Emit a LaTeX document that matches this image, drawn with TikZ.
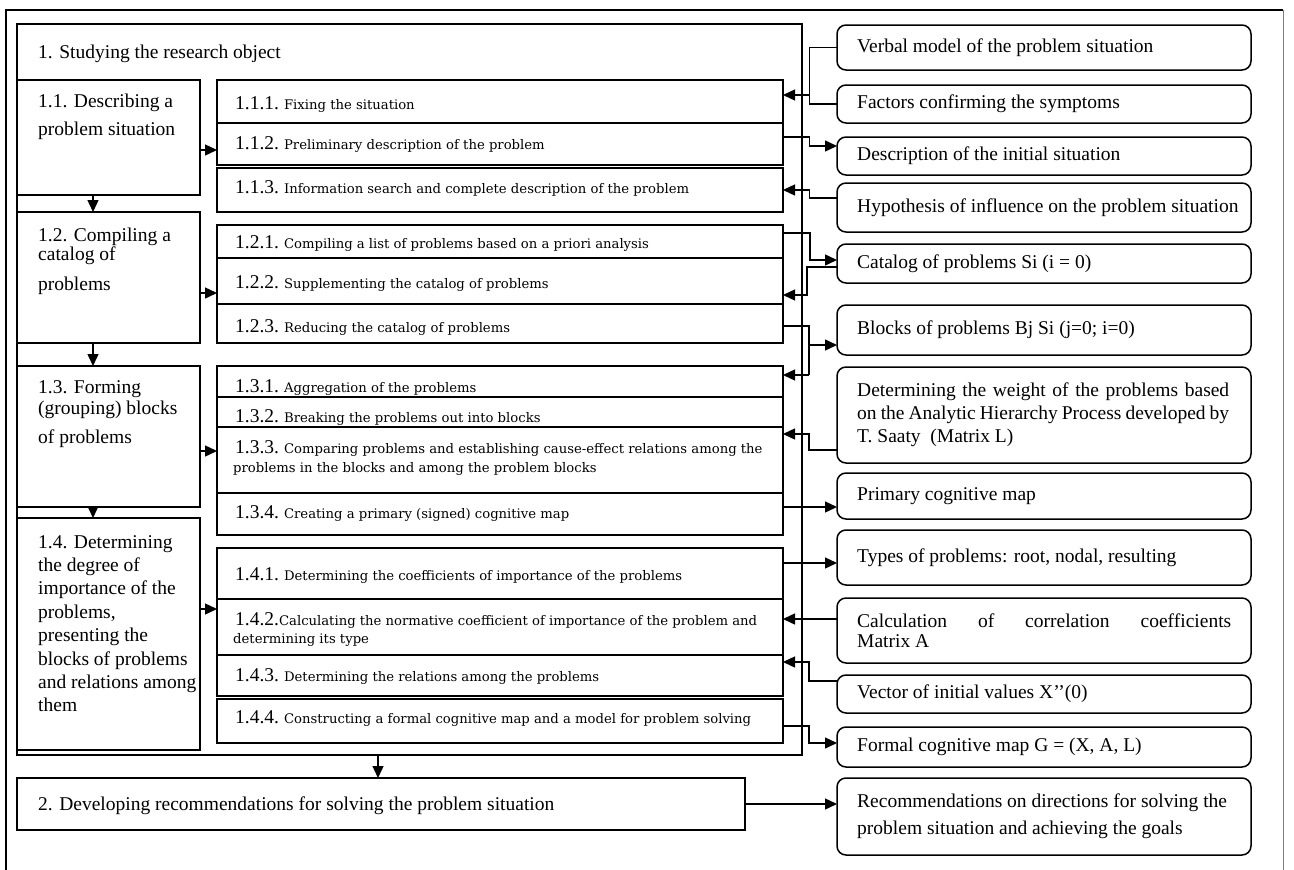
\documentclass[tikz,border=0pt]{standalone}
\usepackage{fontspec}
\setmainfont{Liberation Serif}
\newfontfamily\descfont{DejaVu Serif}
\usetikzlibrary{arrows.meta}

\newcommand\mkbox[6]{%
  \pgfmathsetmacro\mkw{#5-#3}%
  \pgfmathsetmacro\mkh{#6-#4}%
  \node[#1,anchor=north west,minimum width=\mkw pt,minimum height=\mkh pt] (#2) at (#3,#4) {};%
}
\newcommand\bigf{\fontsize{19.5}{23}\selectfont}
\newcommand\smf{\descfont\fontsize{13.2}{15}\selectfont}
\newcommand\subtext[4]{%
  \node[anchor=base west,inner sep=0] (#1) at (235,#2) {\bigf #3\hspace{5pt}{\smf #4}};%
}

\begin{document}
\begin{tikzpicture}[x=1pt,y=-1pt,
  frame/.style={draw=black,line width=1.5pt,inner sep=0,outer sep=0},
  rbx/.style={draw=black,line width=1.5pt,rounded corners=9pt,inner sep=0,outer sep=0},
  conn/.style={line width=1.4pt},
  arr/.style={conn,-{Triangle[length=12pt,width=11pt]}},
  rtext/.style={anchor=west,inner sep=0,font=\bigf}]
\useasboundingbox (0,0) rectangle (1294,870);

% outer frame
\draw[line width=1.6pt] (6,870) -- (6,10) -- (1283,10);
\draw[line width=1pt,gray] (1283,10) -- (1283,870);

% main boxes
\mkbox{frame}{B1}{17}{24}{802}{755}
\mkbox{frame}{B2}{17}{778}{745}{830}
\mkbox{frame}{L11}{17}{80}{200}{195}
\mkbox{frame}{L12}{17}{212}{200}{343}
\mkbox{frame}{L13}{17}{366}{200}{507}
\mkbox{frame}{L14}{17}{518}{200}{750}

% sub boxes
\mkbox{frame}{s111}{217}{80}{783}{123}
\mkbox{frame}{s112}{217}{123}{783}{165}
\mkbox{frame}{s113}{217}{168}{783}{212}
\mkbox{frame}{s121}{217}{225}{783}{258}
\mkbox{frame}{s122}{217}{258}{783}{304}
\mkbox{frame}{s123}{217}{304}{783}{343}
\mkbox{frame}{s131}{217}{366}{783}{397}
\mkbox{frame}{s132}{217}{397}{783}{427}
\mkbox{frame}{s133}{217}{427}{783}{493}
\mkbox{frame}{s134}{217}{493}{783}{535}
\mkbox{frame}{s141}{217}{548}{783}{599}
\mkbox{frame}{s142}{217}{599}{783}{655}
\mkbox{frame}{s143}{217}{655}{783}{696}
\mkbox{frame}{s144}{217}{699}{783}{743}

% right boxes
\mkbox{rbx}{rV}{837}{25}{1251}{70}
\mkbox{rbx}{rF}{837}{85}{1251}{123}
\mkbox{rbx}{rD}{837}{137}{1251}{175}
\mkbox{rbx}{rH}{837}{183}{1251}{232}
\mkbox{rbx}{rC}{837}{244}{1251}{283}
\mkbox{rbx}{rB}{837}{305}{1251}{355}
\mkbox{rbx}{rW}{837}{367}{1251}{463}
\mkbox{rbx}{rP}{837}{473}{1251}{519}
\mkbox{rbx}{rT}{837}{530}{1251}{585}
\mkbox{rbx}{rA}{837}{598}{1251}{663}
\mkbox{rbx}{rX}{837}{675}{1251}{713}
\mkbox{rbx}{rG}{837}{727}{1251}{767}
\mkbox{rbx}{rR}{837}{778}{1251}{855}

% left texts
\node[anchor=base west,inner sep=0] (t1) at (38,58) {\bigf 1. Studying the research object};
\node[anchor=base west,inner sep=0] (t11) at (38,107) {\parbox[t]{165pt}{\raggedright\fontsize{19.5}{28}\selectfont 1.1. Describing a\\problem situation}};
\node[anchor=base west,inner sep=0] (t12) at (38,241) {\parbox[t]{165pt}{\raggedright\fontsize{19.5}{25}\selectfont 1.2. Compiling a\\[-6pt]catalog of\\[5pt]problems}};
\node[anchor=base west,inner sep=0] (t13) at (38,393) {\parbox[t]{165pt}{\raggedright\fontsize{19.5}{25}\selectfont 1.3. Forming\\[-4pt](grouping) blocks\\[4pt]of problems}};
\node[anchor=base west,inner sep=0] (t14) at (38,548) {\parbox[t]{165pt}{\raggedright\fontsize{19.5}{23.4}\selectfont 1.4. Determining\\the degree of\\importance of the\\problems,\\presenting the\\blocks of problems\\and relations among\\them}};
\node[anchor=base west,inner sep=0] (t2) at (38,810) {\bigf 2. Developing recommendations for solving the problem situation};

% sub texts
\subtext{u111}{109}{1.1.1.}{Fixing the situation}
\subtext{u112}{149}{1.1.2.}{Preliminary description of the problem}
\subtext{u113}{193}{1.1.3.}{Information search and complete description of the problem}
\subtext{u121}{248}{1.2.1.}{Compiling a list of problems based on a priori analysis}
\subtext{u122}{288}{1.2.2.}{Supplementing the catalog of problems}
\subtext{u123}{332}{1.2.3.}{Reducing the catalog of problems}
\subtext{u131}{392}{1.3.1.}{Aggregation of the problems}
\subtext{u132}{422}{1.3.2.}{Breaking the problems out into blocks}
\subtext{u133}{453}{1.3.3.}{Comparing problems and establishing cause-effect relations among the}
\node[anchor=base west,inner sep=0] (u133b) at (233,472) {\smf problems in the blocks and among the problem blocks};
\subtext{u134}{518}{1.3.4.}{Creating a primary (signed) cognitive map}
\subtext{u141}{580}{1.4.1.}{Determining the coefficients of importance of the problems}
\node[anchor=base west,inner sep=0] (u142) at (235,625) {\bigf 1.4.2.{\smf Calculating the normative coefficient of importance of the problem and}};
\node[anchor=base west,inner sep=0] (u142b) at (233,643) {\smf determining its type};
\subtext{u143}{681}{1.4.3.}{Determining the relations among the problems}
\subtext{u144}{723}{1.4.4.}{Constructing a formal cognitive map and a model for problem solving}

% right texts
\node[rtext] (vV) at ([xshift=20pt]rV.west) {Verbal model of the problem situation};
\node[rtext] (vF) at ([xshift=20pt]rF.west) {Factors confirming the symptoms};
\node[rtext] (vD) at ([xshift=20pt]rD.west) {Description of the initial situation};
\node[rtext] (vH) at ([xshift=20pt]rH.west) {Hypothesis of influence on the problem situation};
\node[rtext] (vC) at ([xshift=20pt]rC.west) {Catalog of problems Si (i = 0)};
\node[rtext] (vB) at ([xshift=20pt]rB.west) {Blocks of problems Bj Si (j=0; i=0)};
\node[rtext] (vW) at ([xshift=20pt]rW.west) {\parbox{372pt}{\fontsize{19.5}{23}\selectfont\makebox[372pt][s]{Determining the weight of the problems based}\\\makebox[372pt][s]{on the Analytic Hierarchy Process developed by}\\T. Saaty~ (Matrix L)}};
\node[rtext] (vP) at ([xshift=20pt]rP.west) {Primary cognitive map};
\node[rtext] (vT) at ([xshift=20pt]rT.west) {Types of problems: root, nodal, resulting};
\node[rtext] (vA) at ([xshift=20pt]rA.west) {\parbox{374pt}{\fontsize{19.5}{20}\selectfont\makebox[374pt][s]{Calculation\hfill of\hfill correlation\hfill coefficients}\\Matrix A}};
\node[rtext] (vX) at ([xshift=20pt]rX.west) {Vector of initial values X{}'{}'(0)};
\node[rtext] (vG) at ([xshift=20pt]rG.west) {Formal cognitive map G = (X, A, L)};
\node[rtext] (vR) at ([xshift=20pt]rR.west) {\parbox{380pt}{\fontsize{19.5}{27}\selectfont Recommendations on directions for solving the\\problem situation and achieving the goals}};

% vertical flow arrows
\draw[arr] (L11.south -| 93,0) -- (L12.north -| 93,0);
\draw[arr] (L12.south -| 93,0) -- (L13.north -| 93,0);
\draw[arr] (L13.south -| 93,0) -- (L14.north -| 93,0);
\draw[arr] (B1.south -| 378,0) -- (B2.north -| 378,0);

% left to sub groups
\draw[arr] (L11.east |- 0,150) -- (s112.west |- 0,150);
\draw[arr] (L12.east |- 0,293) -- (s122.west |- 0,293);
\draw[arr] (L13.east |- 0,451) -- (s133.west |- 0,451);
\draw[arr] (L14.east |- 0,609) -- (s142.west |- 0,609);

% right connectors
\coordinate (j1) at (809.5,95);
\draw[conn] (rV.west) -| (809.5,104) -- (rF.west);
\draw[arr] (j1) -- (s111.east |- j1);
\draw[arr] (s112.east |- 0,137) -- (809.5,137) -- (809.5,146) -- (rD.west |- 0,146);
\draw[arr] (rH.west |- 0,198) -- (809.5,198) -- (809.5,190) -- (s113.east |- 0,190);
\draw[arr] (s121.east |- 0,233) -- (810,233) -- (810,260) -- (rC.west |- 0,260);
\draw[arr] (rC.west |- 0,267) -- (807,267) -- (807,295) -- (s122.east |- 0,295);
\coordinate (j5) at (809,345);
\draw[conn] (s123.east |- 0,326) -- (809,326) -- (809,375);
\draw[arr] (j5) -- (rB.west |- j5);
\draw[arr] (809,375) -- (s131.east |- 0,375);
\draw[arr] (rW.west |- 0,450) -- (809,450) -- (809,434) -- (s133.east |- 0,434);
\draw[arr] (s134.east |- 0,507) -- (rP.west |- 0,507);
\draw[arr] (s141.east |- 0,563) -- (rT.west |- 0,563);
\draw[arr] (rA.west |- 0,619) -- (s142.east |- 0,619);
\draw[arr] (rX.west |- 0,681) -- (809,681) -- (809,662) -- (s143.east |- 0,662);
\draw[arr] (s144.east |- 0,726) -- (809,726) -- (809,743) -- (rG.west |- 0,743);
\draw[arr] (B2.east |- 0,804) -- (rR.west |- 0,804);
\end{tikzpicture}
\end{document}
